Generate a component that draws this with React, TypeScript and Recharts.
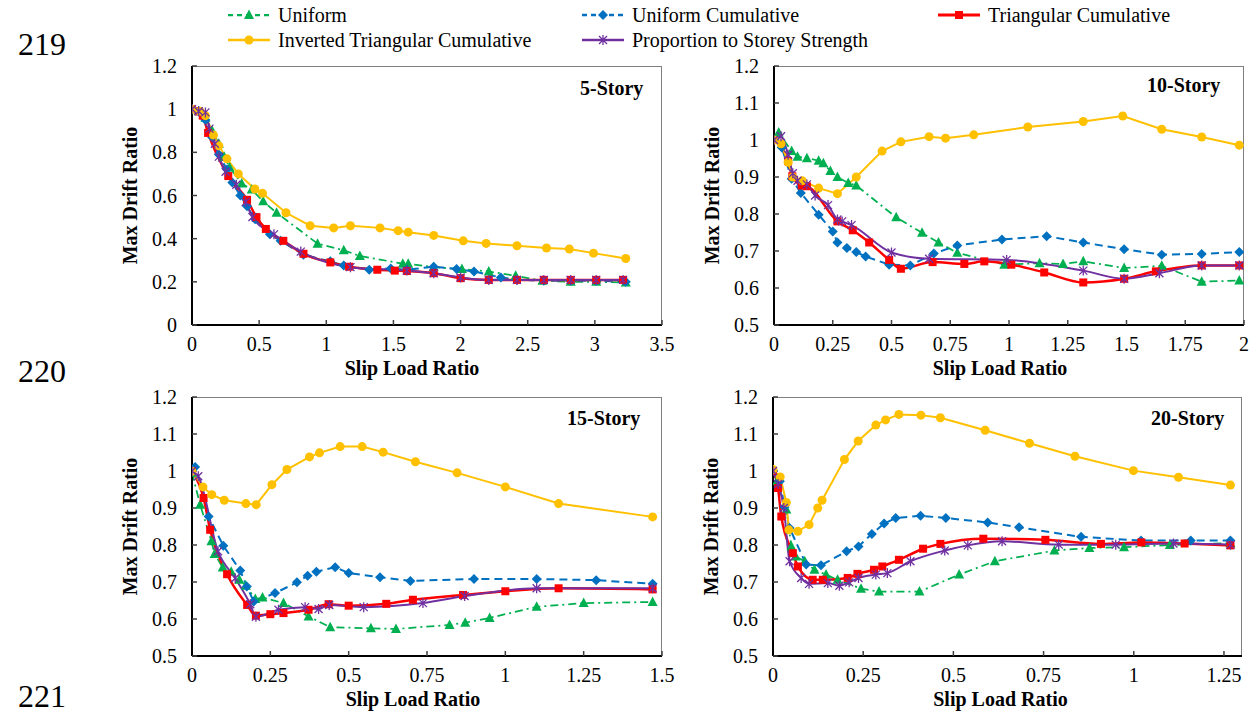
import React from 'react';
import { LineChart, Line, XAxis, YAxis } from 'recharts';

type Pt = [number, number];

// 5-Story
const uniform5: Pt[] = [[0, 1], [0.05, 0.99], [0.1, 0.96], [0.15, 0.9], [0.2, 0.84], [0.24, 0.78], [0.28, 0.73], [0.37, 0.656], [0.445, 0.628], [0.53, 0.573], [0.63, 0.52], [0.935, 0.377], [1.13, 0.346], [1.25, 0.32], [1.57, 0.284], [1.61, 0.284], [1.8, 0.268], [2.01, 0.259], [2.21, 0.248], [2.41, 0.228], [2.61, 0.205], [2.82, 0.2], [3.01, 0.2], [3.23, 0.197]];
const uniformCum5: Pt[] = [[0, 1], [0.05, 0.99], [0.1, 0.95], [0.15, 0.87], [0.2, 0.79], [0.26, 0.72], [0.3, 0.66], [0.36, 0.6], [0.41, 0.55], [0.47, 0.49], [0.58, 0.42], [0.66, 0.39], [0.83, 0.325], [1.03, 0.295], [1.13, 0.276], [1.32, 0.256], [1.48, 0.262], [1.6, 0.256], [1.8, 0.27], [1.97, 0.259], [2.1, 0.248], [2.3, 0.22], [2.42, 0.21], [2.62, 0.205], [2.82, 0.205], [3.01, 0.205], [3.23, 0.2]];
const triCum5: Pt[] = [[0, 1], [0.05, 0.99], [0.08, 0.97], [0.12, 0.89], [0.27, 0.69], [0.41, 0.58], [0.48, 0.5], [0.55, 0.445], [0.68, 0.39], [0.83, 0.33], [1.03, 0.29], [1.17, 0.27], [1.38, 0.256], [1.51, 0.252], [1.6, 0.25], [1.8, 0.24], [2.0, 0.217], [2.21, 0.209], [2.42, 0.209], [2.62, 0.209], [2.82, 0.209], [3.01, 0.209], [3.21, 0.209]];
const invTri5: Pt[] = [[0, 1], [0.06, 0.99], [0.1, 0.97], [0.16, 0.88], [0.2, 0.83], [0.26, 0.77], [0.345, 0.7], [0.468, 0.63], [0.525, 0.61], [0.7, 0.52], [0.88, 0.46], [1.055, 0.45], [1.18, 0.46], [1.4, 0.45], [1.535, 0.437], [1.61, 0.43], [1.8, 0.415], [2.02, 0.39], [2.19, 0.378], [2.42, 0.367], [2.64, 0.357], [2.81, 0.352], [2.99, 0.333], [3.23, 0.308]];
const storey5: Pt[] = [[0, 1], [0.05, 0.99], [0.1, 0.985], [0.13, 0.91], [0.17, 0.84], [0.2, 0.78], [0.25, 0.71], [0.33, 0.65], [0.4, 0.57], [0.45, 0.5], [0.61, 0.42], [0.81, 0.34], [1.18, 0.268], [1.6, 0.252], [1.8, 0.24], [2.0, 0.22], [2.21, 0.209], [2.42, 0.209], [2.62, 0.209], [2.82, 0.209], [3.01, 0.209], [3.21, 0.209]];

// 10-Story
const uniform10: Pt[] = [[0, 1], [0.02, 1.02], [0.075, 0.97], [0.1, 0.955], [0.14, 0.951], [0.19, 0.944], [0.21, 0.937], [0.24, 0.916], [0.27, 0.9], [0.316, 0.884], [0.35, 0.877], [0.52, 0.791], [0.63, 0.749], [0.7, 0.723], [0.78, 0.695], [0.98, 0.663], [1.13, 0.667], [1.23, 0.665], [1.316, 0.672], [1.49, 0.654], [1.65, 0.66], [1.82, 0.617], [1.98, 0.62]];
const uniformCum10: Pt[] = [[0, 1], [0.033, 0.98], [0.075, 0.895], [0.114, 0.857], [0.19, 0.798], [0.25, 0.753], [0.27, 0.723], [0.31, 0.708], [0.35, 0.697], [0.39, 0.685], [0.49, 0.663], [0.58, 0.661], [0.68, 0.693], [0.78, 0.715], [0.97, 0.731], [1.16, 0.74], [1.316, 0.723], [1.49, 0.705], [1.65, 0.69], [1.82, 0.692], [1.98, 0.697]];
const triCum10: Pt[] = [[0, 1], [0.06, 0.943], [0.078, 0.902], [0.118, 0.877], [0.14, 0.875], [0.27, 0.78], [0.335, 0.756], [0.405, 0.723], [0.49, 0.676], [0.54, 0.652], [0.675, 0.67], [0.81, 0.665], [0.895, 0.672], [1.01, 0.663], [1.15, 0.642], [1.316, 0.615], [1.49, 0.625], [1.625, 0.645], [1.82, 0.661], [1.98, 0.661]];
const invTri10: Pt[] = [[0, 1], [0.03, 0.99], [0.06, 0.94], [0.08, 0.9], [0.12, 0.89], [0.19, 0.87], [0.27, 0.855], [0.35, 0.9], [0.46, 0.97], [0.54, 0.995], [0.66, 1.009], [0.73, 1.005], [0.85, 1.014], [1.08, 1.035], [1.316, 1.05], [1.484, 1.065], [1.65, 1.029], [1.82, 1.008], [1.98, 0.986]];
const storey10: Pt[] = [[0, 1], [0.03, 1.01], [0.06, 0.96], [0.08, 0.91], [0.1, 0.89], [0.14, 0.88], [0.175, 0.85], [0.23, 0.824], [0.27, 0.785], [0.29, 0.78], [0.33, 0.77], [0.5, 0.696], [0.66, 0.679], [0.99, 0.676], [1.316, 0.647], [1.49, 0.625], [1.64, 0.64], [1.82, 0.661], [1.98, 0.661]];

// 15-Story
const uniform15: Pt[] = [[0, 0.995], [0.026, 0.909], [0.062, 0.81], [0.072, 0.776], [0.098, 0.739], [0.125, 0.728], [0.151, 0.706], [0.172, 0.69], [0.202, 0.654], [0.225, 0.658], [0.292, 0.643], [0.372, 0.607], [0.441, 0.578], [0.571, 0.575], [0.651, 0.573], [0.822, 0.584], [0.872, 0.59], [0.95, 0.603], [1.1, 0.633], [1.25, 0.643], [1.47, 0.646]];
const uniformCum15: Pt[] = [[0, 1], [0.01, 1.011], [0.053, 0.877], [0.1, 0.798], [0.154, 0.731], [0.175, 0.688], [0.197, 0.647], [0.265, 0.67], [0.335, 0.699], [0.369, 0.717], [0.397, 0.728], [0.457, 0.74], [0.5, 0.724], [0.6, 0.713], [0.697, 0.703], [0.9, 0.708], [1.1, 0.708], [1.29, 0.705], [1.47, 0.695]];
const triCum15: Pt[] = [[0, 1], [0.037, 0.927], [0.058, 0.841], [0.112, 0.721], [0.176, 0.638], [0.204, 0.609], [0.25, 0.613], [0.292, 0.616], [0.372, 0.625], [0.436, 0.64], [0.5, 0.636], [0.62, 0.641], [0.705, 0.652], [0.865, 0.665], [1.0, 0.675], [1.17, 0.683], [1.47, 0.68]];
const invTri15: Pt[] = [[0, 0.999], [0.035, 0.957], [0.063, 0.936], [0.103, 0.921], [0.172, 0.912], [0.205, 0.909], [0.255, 0.963], [0.303, 1.004], [0.375, 1.038], [0.407, 1.049], [0.473, 1.066], [0.543, 1.066], [0.61, 1.051], [0.713, 1.025], [0.846, 0.995], [1.0, 0.957], [1.17, 0.912], [1.47, 0.876]];
const storey15: Pt[] = [[0, 1], [0.02, 0.986], [0.083, 0.783], [0.138, 0.71], [0.186, 0.64], [0.204, 0.606], [0.276, 0.625], [0.361, 0.632], [0.404, 0.627], [0.438, 0.638], [0.548, 0.632], [0.737, 0.643], [0.87, 0.662], [1.1, 0.683], [1.47, 0.683]];

// 20-Story
const uniform20: Pt[] = [[0, 1], [0.011, 0.972], [0.037, 0.896], [0.051, 0.796], [0.063, 0.769], [0.088, 0.756], [0.115, 0.733], [0.147, 0.72], [0.179, 0.706], [0.244, 0.682], [0.294, 0.674], [0.406, 0.674], [0.516, 0.72], [0.615, 0.756], [0.78, 0.785], [0.877, 0.792], [0.973, 0.794], [1.1, 0.8], [1.268, 0.805]];
const uniformCum20: Pt[] = [[0, 1], [0.019, 0.972], [0.032, 0.903], [0.046, 0.846], [0.092, 0.747], [0.133, 0.745], [0.204, 0.783], [0.237, 0.796], [0.274, 0.83], [0.308, 0.858], [0.34, 0.873], [0.409, 0.879], [0.479, 0.873], [0.595, 0.861], [0.682, 0.848], [0.854, 0.822], [1.02, 0.812], [1.158, 0.812], [1.268, 0.812]];
const triCum20: Pt[] = [[0, 1], [0.014, 0.954], [0.023, 0.877], [0.055, 0.778], [0.069, 0.742], [0.11, 0.706], [0.138, 0.706], [0.207, 0.711], [0.234, 0.722], [0.28, 0.733], [0.303, 0.742], [0.349, 0.76], [0.416, 0.79], [0.464, 0.803], [0.583, 0.817], [0.755, 0.814], [0.909, 0.803], [1.021, 0.807], [1.141, 0.804], [1.268, 0.799]];
const invTri20: Pt[] = [[0, 1.004], [0.02, 0.984], [0.037, 0.915], [0.044, 0.841], [0.069, 0.837], [0.1, 0.855], [0.124, 0.9], [0.136, 0.921], [0.198, 1.031], [0.236, 1.081], [0.285, 1.124], [0.312, 1.138], [0.349, 1.153], [0.41, 1.151], [0.464, 1.144], [0.588, 1.11], [0.711, 1.075], [0.837, 1.04], [0.999, 1.001], [1.124, 0.983], [1.268, 0.962]];
const storey20: Pt[] = [[0, 1], [0.014, 0.965], [0.03, 0.9], [0.046, 0.756], [0.078, 0.711], [0.1, 0.695], [0.152, 0.697], [0.184, 0.69], [0.211, 0.699], [0.237, 0.711], [0.285, 0.72], [0.317, 0.724], [0.381, 0.756], [0.476, 0.785], [0.54, 0.799], [0.635, 0.81], [0.792, 0.801], [0.95, 0.801], [1.11, 0.804], [1.268, 0.801]];

const ticks5X = [0, 0.5, 1, 1.5, 2, 2.5, 3, 3.5];
const ticks10X = [0, 0.25, 0.5, 0.75, 1, 1.25, 1.5, 1.75, 2];
const ticks15X = [0, 0.25, 0.5, 0.75, 1, 1.25, 1.5];
const ticks20X = [0, 0.25, 0.5, 0.75, 1, 1.25];
const ticks5Y = [0, 0.2, 0.4, 0.6, 0.8, 1, 1.2];
const ticksY = [0.5, 0.6, 0.7, 0.8, 0.9, 1, 1.1, 1.2];

const seriesNames = ['Uniform', 'Uniform Cumulative', 'Triangular Cumulative', 'Inverted Triangular Cumulative', 'Proportion to Storey Strength'];

const FONT = '"Liberation Serif", "Times New Roman", serif';

type Marker = 'triangle' | 'diamond' | 'square' | 'circle' | 'star';
const styles: { color: string; dash?: string; width: number; marker: Marker; curve: 'linear' | 'monotone' }[] = [
  { color: '#00B050', dash: '8 4 2 4', width: 1.75, marker: 'triangle', curve: 'linear' },
  { color: '#0070C0', dash: '8 5', width: 2, marker: 'diamond', curve: 'linear' },
  { color: '#FF0000', width: 2.5, marker: 'square', curve: 'monotone' },
  { color: '#FFC000', width: 2, marker: 'circle', curve: 'linear' },
  { color: '#7030A0', width: 2, marker: 'star', curve: 'monotone' },
];

function drawMarker(kind: Marker, cx: number, cy: number, color: string, key?: string) {
  switch (kind) {
    case 'triangle':
      return <path key={key} d={`M${cx},${cy - 5.5}L${cx + 5},${cy + 4}L${cx - 5},${cy + 4}Z`} fill={color} />;
    case 'diamond':
      return <path key={key} d={`M${cx},${cy - 5}L${cx + 5},${cy}L${cx},${cy + 5}L${cx - 5},${cy}Z`} fill={color} />;
    case 'square':
      return <rect key={key} x={cx - 4} y={cy - 4} width={8} height={8} fill={color} />;
    case 'circle':
      return <circle key={key} cx={cx} cy={cy} r={4.5} fill={color} />;
    default:
      return (
        <path key={key} d={`M${cx},${cy - 5}V${cy + 5}M${cx - 4},${cy - 4}L${cx + 4},${cy + 4}M${cx - 4},${cy + 4}L${cx + 4},${cy - 4}`}
          stroke={color} strokeWidth={1.3} fill="none" />
      );
  }
}

type PanelProps = {
  left: number;
  top: number;
  plotW: number;
  plotH: number;
  rightPad: number;
  xDomain: [number, number];
  xTicks: number[];
  yDomain: [number, number];
  yTicks: number[];
  series: Pt[][];
  labelShift: number;
};

function Panel({ left, top, plotW, plotH, rightPad, xDomain, xTicks, yDomain, yTicks, series, labelShift }: PanelProps) {
  const tickStyle = { fontSize: 20, fill: '#000', fontFamily: FONT };
  const titleStyle = { fontSize: 20, fill: '#000', fontFamily: FONT, fontWeight: 'bold' as const };
  return (
    <div style={{ position: 'absolute', left, top }}>
      <div style={{ position: 'absolute', left: 90, top: 10, width: plotW, height: plotH, borderTop: '1.5px solid #7f7f7f', borderRight: '1.5px solid #7f7f7f', boxSizing: 'border-box' }} />
      <LineChart width={90 + plotW + rightPad} height={10 + plotH + 55} margin={{ top: 10, right: rightPad, left: 0, bottom: 0 }}>
        <XAxis
          type="number"
          dataKey="x"
          domain={xDomain}
          ticks={xTicks}
          interval={0}
          allowDataOverflow
          height={55}
          tickSize={-5}
          tickMargin={17}
          axisLine={{ stroke: '#000', strokeWidth: 2 }}
          tickLine={{ stroke: '#404040', strokeWidth: 1.5 }}
          tick={tickStyle}
          label={{ value: 'Slip Load Ratio', position: 'insideBottom', offset: 5, dx: labelShift, style: titleStyle }}
        />
        <YAxis
          type="number"
          domain={yDomain}
          ticks={yTicks}
          interval={0}
          allowDataOverflow
          width={90}
          tickSize={-5}
          tickMargin={20}
          axisLine={{ stroke: '#000', strokeWidth: 2 }}
          tickLine={{ stroke: '#404040', strokeWidth: 1.5 }}
          tick={tickStyle}
          label={{ value: 'Max Drift Ratio', angle: -90, position: 'insideLeft', offset: 28, style: { ...titleStyle, textAnchor: 'middle' } }}
        />
        {series.map((pts, i) => {
          const st = styles[i];
          return (
            <Line
              key={seriesNames[i]}
              name={seriesNames[i]}
              data={pts.map(([x, y]) => ({ x, y }))}
              dataKey="y"
              type={st.curve}
              stroke={st.color}
              strokeWidth={st.width}
              strokeDasharray={st.dash}
              dot={(p: any) => drawMarker(st.marker, p.cx, p.cy, st.color, `d-${i}-${p.index}`)}
              activeDot={false}
              isAnimationActive={false}
            />
          );
        })}
      </LineChart>
    </div>
  );
}

function LegendItem({ idx, left, top }: { idx: number; left: number; top: number }) {
  const st = styles[idx];
  return (
    <div style={{ position: 'absolute', left: left - 50, top, height: 20, display: 'flex', alignItems: 'center' }}>
      <svg width={42} height={20} style={{ marginRight: 8 }}>
        <line x1={0} y1={10} x2={42} y2={10} stroke={st.color} strokeWidth={st.width + 0.5} strokeDasharray={st.dash ? '5 4' : undefined} />
        {drawMarker(st.marker, 21, 10, st.color)}
      </svg>
      <span style={{ fontSize: 20, lineHeight: '20px', whiteSpace: 'nowrap' }}>{seriesNames[idx]}</span>
    </div>
  );
}

const titleCss: React.CSSProperties = { position: 'absolute', fontSize: 20, lineHeight: '20px', fontWeight: 'bold' };
const lineNoCss: React.CSSProperties = { position: 'absolute', left: 18, fontSize: 32, lineHeight: '32px' };

export default function App() {
  return (
    <div style={{ position: 'absolute', left: 0, top: 0, width: 1254, height: 713, background: '#fff', overflow: 'hidden', fontFamily: FONT, color: '#000' }}>
      <LegendItem idx={0} left={278} top={5} />
      <LegendItem idx={1} left={632} top={5} />
      <LegendItem idx={2} left={988} top={5} />
      <LegendItem idx={3} left={278} top={30} />
      <LegendItem idx={4} left={632} top={30} />

      <div style={{ ...lineNoCss, top: 28 }}>219</div>
      <div style={{ ...lineNoCss, top: 355 }}>220</div>
      <div style={{ ...lineNoCss, top: 680 }}>221</div>

      <Panel left={102} top={56} plotW={470} plotH={259} rightPad={30} xDomain={[0, 3.5]} xTicks={ticks5X} yDomain={[0, 1.2]} yTicks={ticks5Y}
        series={[uniform5, uniformCum5, triCum5, invTri5, storey5]} labelShift={-15} />
      <Panel left={684} top={56} plotW={470} plotH={259} rightPad={10} xDomain={[0, 2]} xTicks={ticks10X} yDomain={[0.5, 1.2]} yTicks={ticksY}
        series={[uniform10, uniformCum10, triCum10, invTri10, storey10]} labelShift={-9} />
      <Panel left={102} top={387} plotW={470} plotH={259} rightPad={30} xDomain={[0, 1.5]} xTicks={ticks15X} yDomain={[0.5, 1.2]} yTicks={ticksY}
        series={[uniform15, uniformCum15, triCum15, invTri15, storey15]} labelShift={-14} />
      <Panel left={683} top={387} plotW={469} plotH={259} rightPad={10} xDomain={[0, 1.3]} xTicks={ticks20X} yDomain={[0.5, 1.2]} yTicks={ticksY}
        series={[uniform20, uniformCum20, triCum20, invTri20, storey20]} labelShift={-7} />

      <div style={{ ...titleCss, left: 580, top: 78 }}>5-Story</div>
      <div style={{ ...titleCss, left: 1147, top: 75 }}>10-Story</div>
      <div style={{ ...titleCss, left: 567, top: 408 }}>15-Story</div>
      <div style={{ ...titleCss, left: 1151, top: 408 }}>20-Story</div>
    </div>
  );
}
